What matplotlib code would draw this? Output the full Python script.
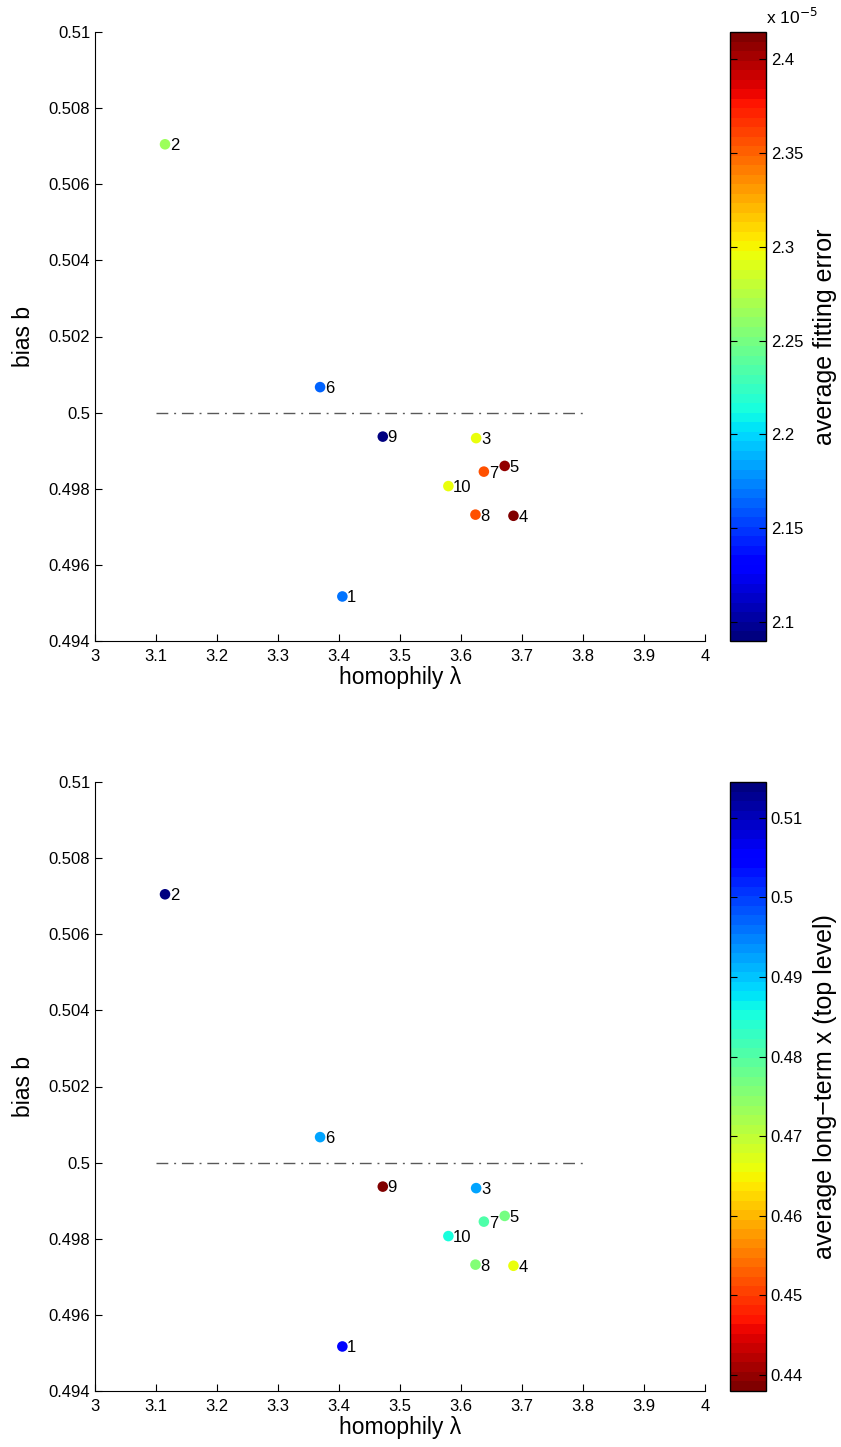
import numpy as np
import matplotlib
matplotlib.use("Agg")
import matplotlib.pyplot as plt
from matplotlib.ticker import FormatStrFormatter

plt.rcParams["font.family"] = ["Liberation Sans", "DejaVu Sans"]

# ten fitted runs: homophily lambda and bias b
run_ids = ["1", "2", "3", "4", "5", "6", "7", "8", "9", "10"]
homophily = [3.4055, 3.1148, 3.6248, 3.6860, 3.6716, 3.3690, 3.6375, 3.6237, 3.4718, 3.5793]
bias = [0.49517, 0.50705, 0.49933, 0.49729, 0.49860, 0.50067, 0.49845, 0.49732, 0.49937, 0.49807]

# colour values: fitting error (x 1e-5) and long-term x at the top level
fit_err = [2.168, 2.263, 2.295, 2.412, 2.408, 2.165, 2.358, 2.356, 2.090, 2.296]
long_x = [0.5046, 0.5145, 0.4927, 0.4665, 0.4763, 0.4923, 0.4808, 0.4760, 0.4380, 0.4852]

err_ticks = [2.1, 2.15, 2.2, 2.25, 2.3, 2.35, 2.4]
x_ticks = [0.44, 0.45, 0.46, 0.47, 0.48, 0.49, 0.5, 0.51]

W, H = 841, 1447
fig = plt.figure(figsize=(W / 100, H / 100), dpi=100)


def box(x0, y0, x1, y1):
    # pixel box (top-left origin) -> figure fraction
    return [x0 / W, 1 - y1 / H, (x1 - x0) / W, (y1 - y0) / H]


def panel(top, values, cmap, vmin, vmax, ticks, cb_label):
    ax = fig.add_axes(box(95, top, 705, top + 609))
    cax = fig.add_axes(box(730, top, 766, top + 609))

    # reference line at b = 0.5
    ax.plot([3.1, 3.8], [0.5, 0.5], color="0.35", lw=1.0,
            linestyle=(0, (8.5, 4.2, 1.4, 4.2)), zorder=1)

    sc = ax.scatter(homophily, bias, c=values, cmap=cmap, vmin=vmin, vmax=vmax,
                    s=58, edgecolors="none", zorder=3)
    for xi, yi, lab in zip(homophily, bias, run_ids):
        ax.annotate(lab, (xi, yi), xytext=(3.5, -1), textcoords="offset points",
                    ha="left", va="center", fontsize=12)

    ax.set_xlim(3, 4)
    ax.set_ylim(0.494, 0.51)
    ax.set_xticks(np.arange(3, 4.01, 0.1))
    ax.set_yticks(np.arange(0.494, 0.51001, 0.002))
    ax.xaxis.set_major_formatter(FormatStrFormatter("%g"))
    ax.yaxis.set_major_formatter(FormatStrFormatter("%g"))
    ax.spines["top"].set_visible(False)
    ax.spines["right"].set_visible(False)
    ax.tick_params(direction="in", length=5, labelsize=12, width=0.8)
    ax.tick_params(axis="x", pad=6)
    ax.set_xlabel("homophily λ", fontsize=16.5, labelpad=1)
    ax.set_ylabel("bias b", fontsize=16.5, labelpad=10)

    cb = fig.colorbar(sc, cax=cax)
    cb.set_ticks(ticks)
    cb.ax.yaxis.set_major_formatter(FormatStrFormatter("%g"))
    cb.ax.tick_params(direction="in", length=5, left=True, right=True,
                      labelleft=False, labelright=True, labelsize=12, width=0.8)
    cb.outline.set_linewidth(1.0)
    cb.set_label(cb_label, fontsize=18, labelpad=7)
    return ax, cax


jet = plt.get_cmap("jet", 64)
jet_r = plt.get_cmap("jet_r", 64)

ax1, cax1 = panel(32, fit_err, jet, 2.0899, 2.4144, err_ticks, "average fitting error")
cax1.text(1.0, 1.008, r"x 10$^{-5}$", transform=cax1.transAxes,
          ha="left", va="bottom", fontsize=12.5)

ax2, cax2 = panel(782, long_x, jet_r, 0.4380, 0.5145, x_ticks,
                  "average long\u2212term x (top level)")

fig.savefig("out.png", dpi=100)
